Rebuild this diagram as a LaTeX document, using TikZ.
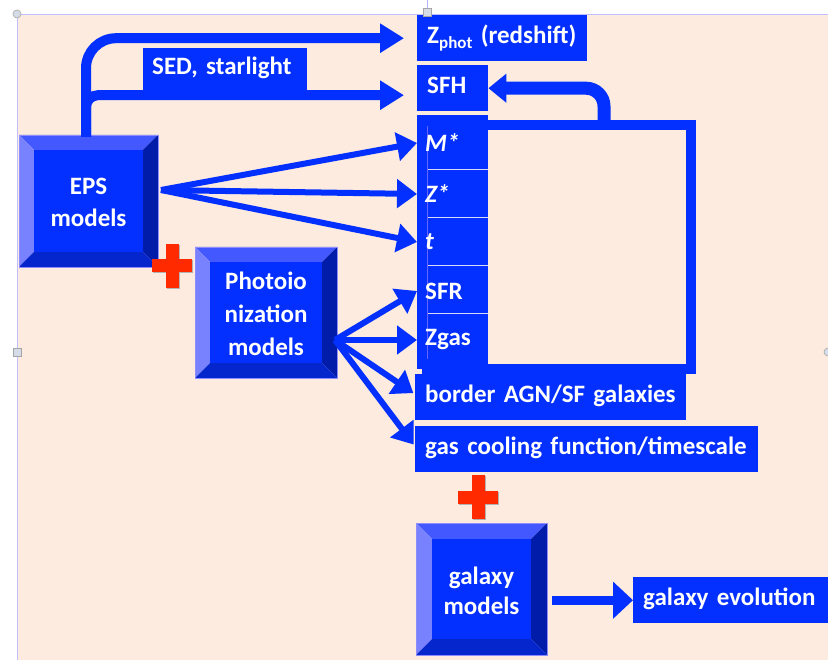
\documentclass[tikz,border=0pt]{standalone}
\usepackage{fontspec}
\setsansfont{Carlito}
\usetikzlibrary{arrows.meta,calc}
\definecolor{bg}{HTML}{FCEBDE}
\definecolor{pblue}{HTML}{0330FF}
\definecolor{btop}{HTML}{4458FF}
\definecolor{bleft}{HTML}{7882FF}
\definecolor{bright}{HTML}{001CA8}
\definecolor{bbot}{HTML}{0526CC}
\definecolor{pred}{HTML}{FF2A00}
\definecolor{handle}{HTML}{D5DCE8}
\newcommand\bevelbox[5]{%
 \fill[btop] (#1,#2) -- (#3,#2) -- ({#3-#5},{#2+#5}) -- ({#1+#5},{#2+#5}) -- cycle;
 \fill[bleft] (#1,#2) -- ({#1+#5},{#2+#5}) -- ({#1+#5},{#4-#5}) -- (#1,#4) -- cycle;
 \fill[bright] (#3,#2) -- (#3,#4) -- ({#3-#5},{#4-#5}) -- ({#3-#5},{#2+#5}) -- cycle;
 \fill[bbot] (#1,#4) -- ({#1+#5},{#4-#5}) -- ({#3-#5},{#4-#5}) -- (#3,#4) -- cycle;
 \fill[pblue] ({#1+#5},{#2+#5}) rectangle ({#3-#5},{#4-#5});
 \draw[blue!45,line width=0.6pt] (#1,#2) rectangle (#3,#4);
}
\newcommand\redplus[2]{%
 \fill[gray!60] ({#1-19},{#2-5.5}) rectangle ({#1+21},{#2+7.5});
 \fill[gray!60] ({#1-5.5},{#2-21}) rectangle ({#1+7.5},{#2+23});
 \fill[pred] ({#1-20},{#2-6.5}) rectangle ({#1+20},{#2+6.5});
 \fill[pred] ({#1-6.5},{#2-22}) rectangle ({#1+6.5},{#2+22});
}
\tikzset{
 lbl/.style={fill=pblue, text=white, font=\sffamily\bfseries\fontsize{25}{30}\selectfont,
   inner xsep=10pt, inner ysep=0pt, minimum height=46pt, align=left, anchor=north west,
   text height=17pt, text depth=6pt},
 cell/.style={text=white, font=\sffamily\bfseries\fontsize{25}{30}\selectfont,
   inner xsep=8pt, inner ysep=0pt, text width=55pt, align=left, anchor=west},
 bevtext/.style={text=white, font=\sffamily\bfseries\fontsize{25}{32}\selectfont, align=center, inner sep=0pt},
 bigarr/.style={draw=pblue, line width=10pt, -{Triangle[length=24pt,width=28pt]}},
 medarr/.style={draw=pblue, line width=6pt, -{Triangle[length=20pt,width=28pt]}},
}
\begin{document}
\begin{tikzpicture}[x=1pt,y=-1pt]
\useasboundingbox (0,0) rectangle (828,660);
\fill[white] (0,0) rectangle (828,660);
\fill[bg] (17,14) rectangle (830,662);
\draw[blue!25,line width=0.8pt] (17,662) -- (17,14) -- (830,14);

% bevel boxes
\bevelbox{19}{135}{158}{267}{15}
\bevelbox{195}{247}{337}{378}{15}
\bevelbox{416}{523}{547}{655}{16}
\node[bevtext, minimum width=139pt, minimum height=132pt] (eps) at (88.5,202) {EPS\\models};
\node[bevtext, minimum width=142pt, minimum height=131pt, font=\sffamily\bfseries\fontsize{25}{33}\selectfont] (photo) at (266,314) {Photoio\\nization\\models};
\node[bevtext, minimum width=131pt, minimum height=132pt, font=\sffamily\bfseries\fontsize{25}{30}\selectfont] (galaxy) at (481.5,591) {galaxy\\models};

% frame with cells
\fill[pblue] (417,115) rectangle (488,369);
\node[draw=pblue, line width=10pt, minimum width=264pt, minimum height=244pt, inner sep=0pt, anchor=north west] (frame) at (422,120) {};
\foreach \yy in {170,218,266,314} \draw[white!85!blue, line width=1pt] (427,\yy) -- (488,\yy);
\draw[blue!60!white, line width=0.6pt] (427,126) -- (427,359);
\node[cell] (mstar) at (417,143) {\itshape M*};
\node[cell] (zstar) at (417,194) {\itshape Z*};
\node[cell] (tage) at (417,242) {\itshape t};
\node[cell] (sfr) at (417,291) {SFR};
\node[cell] (zgas) at (417,340) {Zgas};

% label boxes
\node[lbl, text width=150pt] (zphot) at (417,15) {Z\raisebox{-5pt}{\fontsize{17}{17}\selectfont phot} (redshift)};
\node[lbl, text width=51pt] (sfh) at (417,65) {SFH};
\node[lbl, text width=146pt, inner xsep=9pt, minimum height=42pt] (sed) at (143,48) {SED, starlight};
\node[lbl, text width=251pt] (border) at (415,374) {border AGN/SF galaxies};
\node[lbl, text width=323pt] (gascool) at (415,426) {gas cooling function/timescale};
\node[lbl, text width=185pt] (galevo) at (633,577) {galaxy evolution};

% connectors
\coordinate (epstop) at (86,137);
\coordinate (epsout) at (161,190);
\coordinate (phout) at (335,340);
\coordinate (fbstart) at (604,125);
\draw[bigarr, rounded corners=30pt, shorten >=13pt] (epstop) |- (zphot.west);
\draw[bigarr, rounded corners=12pt, shorten >=13pt] (epstop) |- ($(sfh.west)+(0,7)$);
\draw[draw=pblue, line width=13pt, rounded corners=18pt, -{Triangle[length=18pt,width=28pt]}] (fbstart) |- (sfh.east);
\draw[medarr] (epsout) -- (mstar.west);
\draw[medarr] (epsout) -- (zstar.west);
\draw[medarr] (epsout) -- (tage.west);
\draw[medarr] (phout) -- (sfr.west);
\draw[medarr] (phout) -- (zgas.west);
\draw[medarr, shorten >=2pt] (phout) -- ($(border.west)+(0,-3)$);
\draw[medarr, shorten >=2pt] (phout) -- ($(gascool.west)+(0,-3)$);
\draw[draw=pblue, line width=9pt, -{Triangle[length=20pt,width=36pt]}, shorten <=5pt] (galaxy.east |- galevo.west) -- (galevo.west);

% red plus signs
\redplus{172}{266}
\redplus{478}{497}

% selection handles
\draw[blue!30, line width=0.6pt] (427,0) -- (427,8);
\filldraw[fill=handle, draw=gray!70, line width=0.6pt] (17,14) circle (4pt);
\filldraw[fill=handle, draw=gray!70, line width=0.6pt] (423,8) rectangle (431,16);
\filldraw[fill=handle, draw=gray!70, line width=0.6pt] (13,348) rectangle (21,356);
\filldraw[fill=handle, draw=gray!70, line width=0.6pt] (828,352) circle (4pt);
\end{tikzpicture}
\end{document}
